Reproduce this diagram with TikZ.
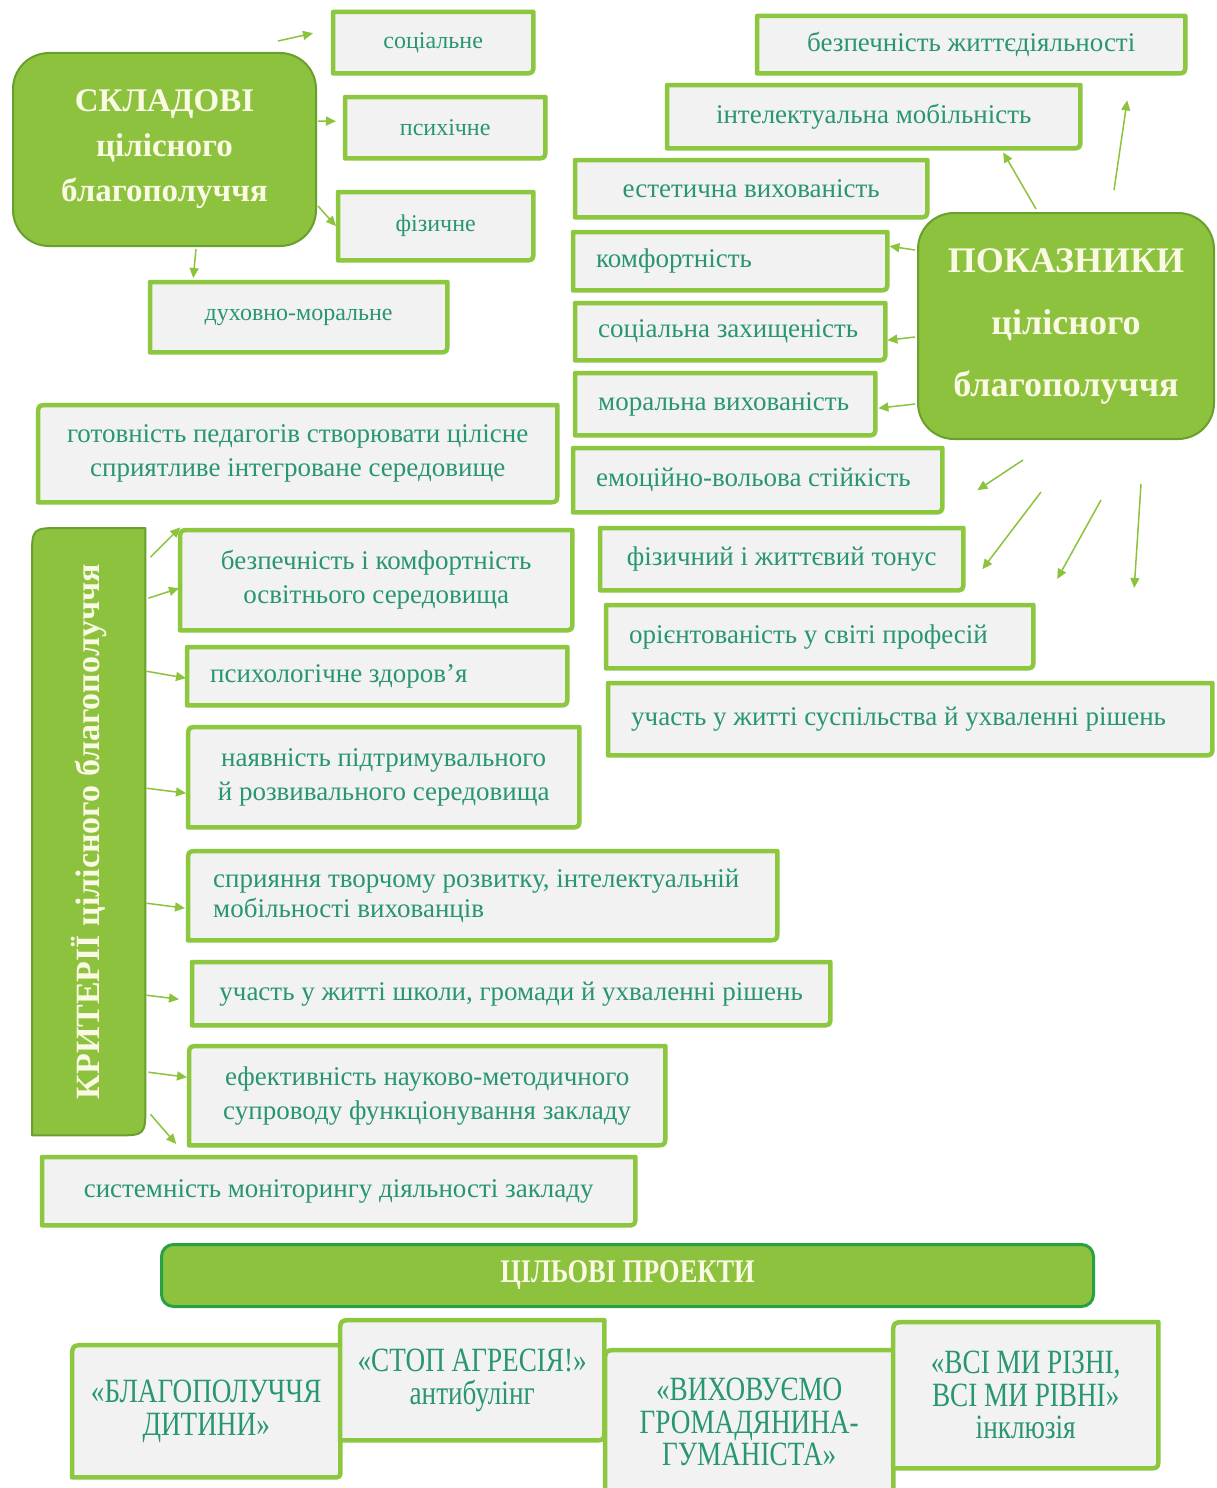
\documentclass[tikz,border=0pt]{standalone}
\usepackage{fontspec}
\setmainfont{Liberation Serif}
\newfontfamily\condf[FakeStretch=0.8]{Liberation Serif}
\usetikzlibrary{arrows.meta,calc,backgrounds}
\definecolor{frm}{RGB}{141,198,63}
\definecolor{boxfill}{RGB}{242,242,242}
\definecolor{tcol}{RGB}{40,150,110}
\definecolor{gfill}{RGB}{141,194,62}
\definecolor{gdark}{RGB}{105,160,45}
\definecolor{bigtext}{RGB}{250,250,228}
\definecolor{arrc}{RGB}{140,195,60}
\definecolor{bardark}{RGB}{40,160,70}

\newcommand{\gframe}[6][frameline]{%
\begin{pgfonlayer}{background}
\filldraw[#1] ($(#2.north west)+(#3,0)$) -- ($(#2.north east)+(-#4,0)$)
 .. controls (#2.north east) .. ($(#2.north east)+(0,#4)$)
 -- ($(#2.south east)+(0,-#5)$)
 .. controls (#2.south east) .. ($(#2.south east)+(-#5,0)$)
 -- ($(#2.south west)+(#6,0)$)
 .. controls (#2.south west) .. ($(#2.south west)+(0,-#6)$)
 -- ($(#2.north west)+(0,#3)$)
 .. controls (#2.north west) .. ($(#2.north west)+(#3,0)$) -- cycle;
\end{pgfonlayer}}

\tikzset{
  frameline/.style={draw=frm, line width=4.5pt, fill=boxfill, line join=round},
  greenframe/.style={draw=gdark, line width=2pt, fill=gfill, line join=round},
  tb/.style={anchor=north west, inner sep=0pt, text=tcol, align=center, font=\fontsize{27}{34}\selectfont},
  tbs/.style={tb, font=\fontsize{24}{30}\selectfont},
  lt/.style={align=flush left, inner xsep=23pt},
  bigbox/.style={anchor=north west, inner sep=0pt, fill=gfill, draw=gdark, line width=2pt, text=bigtext, align=center},
  projf/.style={font=\condf\fontsize{34}{32.5}\selectfont},
  arr/.style={draw=arrc, line width=1.5pt, -{Triangle[length=10pt,width=9pt]}},
}

\begin{document}
\begin{tikzpicture}[x=1pt,y=-1pt]
\useasboundingbox (0,0) rectangle (1216,1488);
\begin{pgfonlayer}{background}
\fill[white] (0,0) rectangle (1216,1488);
\end{pgfonlayer}

% ---------- СКЛАДОВІ ----------
\node[bigbox, rounded corners=36pt, minimum width=303pt, minimum height=193pt,
      font=\bfseries\fontsize{33}{45}\selectfont] (sk) at (12,52) {СКЛАДОВІ\\цілісного\\благополуччя};
\node[tbs, minimum width=200pt, minimum height=61pt] (soc) at (333,12) {соціальне};
\node[tbs, minimum width=200pt, minimum height=61pt] (ps) at (345,97) {психічне};
\node[tbs, minimum width=195pt, minimum height=68pt] (fiz) at (338,192) {фізичне};
\node[tbs, minimum width=297pt, minimum height=70pt] (duh) at (150,282) {духовно-моральне};
\gframe{soc}{0}{0}{10}{0}
\gframe{ps}{0}{0}{10}{0}
\gframe{fiz}{0}{0}{10}{0}
\gframe{duh}{0}{0}{10}{0}

\draw[arr] ($(sk.north east)+(-39,-11)$) -- ($(soc.west)+(-20,-9.5)$);
\draw[arr] ($(sk.east)+(1,-28.5)$) -- ($(ps.west)+(-9,-6.5)$);
\draw[arr] ($(sk.east)+(1,56.5)$) -- ($(fiz.west)+(-2,0)$);
\draw[arr] ($(sk.south)+(31.5,2)$) -- ($(duh.north)+(-105.5,-4)$);

% ---------- ПОКАЗНИКИ ----------
\node[bigbox, rounded corners=36pt, minimum width=296pt, minimum height=226pt,
      font=\bfseries\fontsize{36}{62}\selectfont] (pk) at (917,212) {ПОКАЗНИКИ\\цілісного\\благополуччя};
\node[tb, minimum width=428pt, minimum height=57pt] (bz) at (757,16) {безпечність життєдіяльності};
\node[tb, minimum width=413pt, minimum height=63pt] (im) at (667,85) {інтелектуальна мобільність};
\node[tb, minimum width=352pt, minimum height=57pt] (es) at (575,160) {естетична вихованість};
\node[tb, lt, text width=268pt, minimum height=58pt] (kf) at (573,232) {комфортність};
\node[tb, lt, text width=264pt, minimum height=57pt] (sz) at (575,303) {соціальна захищеність};
\node[tb, lt, text width=254pt, minimum height=62pt] (mv) at (575,373) {моральна вихованість};
\node[tb, lt, text width=323pt, minimum height=64pt] (ev) at (573,448) {емоційно-вольова стійкість};
\node[tb, minimum width=363pt, minimum height=62pt] (ft) at (600,528) {фізичний і життєвий тонус};
\node[tb, lt, text width=381pt, minimum height=63pt] (op) at (606,605) {орієнтованість у світі професій};
\node[tb, lt, text width=558pt, minimum height=72pt] (uc) at (608,683) {участь у житті суспільства й ухваленні рішень};
\gframe{bz}{0}{0}{10}{0}
\gframe{im}{0}{0}{10}{0}
\gframe{es}{0}{0}{10}{0}
\gframe{kf}{0}{0}{10}{0}
\gframe{sz}{0}{0}{10}{0}
\gframe{mv}{0}{0}{10}{0}
\gframe{ev}{0}{0}{10}{0}
\gframe{ft}{0}{0}{10}{0}
\gframe{op}{0}{0}{10}{0}
\gframe{uc}{0}{0}{10}{0}

\draw[arr] ($(pk.north)+(-30,-3)$) -- ($(im.south)+(129.5,4)$);
\draw[arr] ($(pk.north)+(48,-22)$) -- ($(bz.south)+(156,27)$);
\draw[arr] ($(pk.west)+(-2,-76)$) -- ($(kf.east)+(2,-15)$);
\draw[arr] ($(pk.west)+(-2,11)$) -- ($(sz.east)+(2,8.5)$);
\draw[arr] ($(pk.west)+(-2,78)$) -- ($(mv.east)+(3,4)$);
\draw[arr] ($(pk.south)+(-43,20)$) -- ($(ev.east)+(35,10)$);
\draw[arr] ($(pk.south)+(-25,52)$) -- ($(ft.east)+(19,10)$);
\draw[arr] ($(pk.south)+(35,60)$) -- ($(op.north)+(237.5,-26)$);
\draw[arr] ($(pk.south)+(75,44)$) -- ($(uc.north)+(224,-95)$);

% ---------- КРИТЕРІЇ ----------
\node[tb, minimum width=519pt, minimum height=97pt] (gt) at (38,405) {готовність педагогів створювати цілісне\\сприятливе інтегроване середовище};
\node[anchor=north west, inner sep=0pt, minimum width=113pt, minimum height=607pt, text=bigtext,
      font=\bfseries\fontsize{34}{36}\selectfont] (kr) at (32,528) {\rotatebox{90}{КРИТЕРІЇ цілісного благополуччя}};
\node[tb, minimum width=392pt, minimum height=100pt] (bk) at (180,530) {безпечність і комфортність\\освітнього середовища};
\node[tb, lt, text width=334pt, minimum height=58pt] (pz) at (187,647) {психологічне здоров’я};
\node[tb, minimum width=391pt, minimum height=100pt] (nv) at (188,727) {наявність підтримувального\\й розвивального середовища};
\node[tb, lt, inner xsep=25pt, text width=539pt, minimum height=89pt, font=\fontsize{27}{30}\selectfont] (sp) at (188,851) {сприяння творчому розвитку, інтелектуальній\\мобільності вихованців};
\node[tb, minimum width=638pt, minimum height=63pt] (ush) at (192,962) {участь у житті школи, громади й ухваленні рішень};
\node[tb, minimum width=476pt, minimum height=99pt] (ef) at (189,1046) {ефективність науково-методичного\\супроводу функціонування закладу};
\node[tb, minimum width=593pt, minimum height=68pt] (sy) at (42,1157) {системність моніторингу діяльності закладу};
\gframe{gt}{12}{0}{12}{0}
\gframe[greenframe]{kr}{30}{0}{30}{0}
\gframe{bk}{12}{0}{10}{0}
\gframe{pz}{0}{0}{10}{0}
\gframe{nv}{12}{0}{10}{0}
\gframe{sp}{12}{0}{12}{0}
\gframe{ush}{0}{0}{10}{0}
\gframe{ef}{12}{0}{12}{0}
\gframe{sy}{0}{0}{10}{0}

\draw[arr] ($(kr.east)+(5,-274.5)$) -- ($(gt.south)+(-117.5,25)$);
\draw[arr] ($(kr.east)+(3,-233.5)$) -- ($(bk.west)+(-1,8)$);
\draw[arr] ($(kr.east)+(1,-160.5)$) -- ($(pz.west)+(-1,2)$);
\draw[arr] ($(kr.east)+(1,-43.5)$) -- ($(nv.west)+(-2,16)$);
\draw[arr] ($(kr.east)+(1,71.5)$) -- ($(sp.west)+(-3,12.5)$);
\draw[arr] ($(kr.east)+(1,163.5)$) -- ($(ush.west)+(-13,5.5)$);
\draw[arr] ($(kr.east)+(3,240.5)$) -- ($(ef.west)+(-2,-18.5)$);
\draw[arr] ($(kr.east)+(5,282.5)$) -- ($(sy.north)+(-162.5,-13)$);

% ---------- ЦІЛЬОВІ ПРОЕКТИ ----------
\node[bigbox, rounded corners=12pt, draw=bardark, line width=3pt, minimum width=932pt, minimum height=62pt,
      font=\condf\bfseries\fontsize{33}{36}\selectfont] (bar) at (160,1243) {ЦІЛЬОВІ ПРОЕКТИ};
\node[tb, projf, minimum width=268pt, minimum height=132pt] (p1) at (72,1345) {«БЛАГОПОЛУЧЧЯ\\ДИТИНИ»};
\node[tb, projf, minimum width=264pt, minimum height=120pt] (p2) at (340,1320) {«СТОП АГРЕСІЯ!»\\антибулінг};
\node[tb, projf, minimum width=288pt, minimum height=144pt] (p3) at (605,1350) {«ВИХОВУЄМО\\ГРОМАДЯНИНА-\\ГУМАНІСТА»};
\node[tb, projf, minimum width=265pt, minimum height=146pt] (p4) at (893,1322) {«ВСІ МИ РІЗНІ,\\ВСІ МИ РІВНІ»\\інклюзія};
\gframe{p1}{15}{0}{8}{0}
\gframe{p2}{15}{0}{12}{0}
\gframe{p3}{15}{0}{8}{0}
\gframe{p4}{15}{0}{12}{0}
\end{tikzpicture}
\end{document}
